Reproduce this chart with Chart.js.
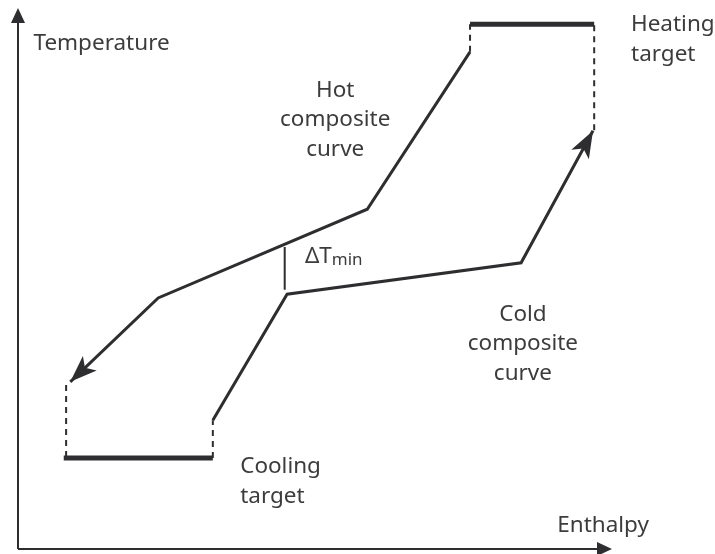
<!DOCTYPE html>
<html>
<head>
<meta charset="utf-8">
<script src="https://cdn.jsdelivr.net/npm/chart.js@4.4.1/dist/chart.umd.min.js"></script>
<style>
  html, body { margin: 0; padding: 0; background: #fff; }
  #wrap { width: 715px; height: 554px; }
</style>
</head>
<body>
<div id="wrap"><canvas id="pinch"></canvas></div>
<script>
// ===== data (enthalpy H, temperature T, arbitrary units 0..100) =====
const hotCurveH = [76.1, 58.8, 23.6, 8.8];
const hotCurveT = [91.9, 62.8, 46.4, 30.9];

const coldCurveH = [32.8, 45.3, 84.7, 96.8];
const coldCurveT = [23.8, 47.1, 52.9, 77.3];

const heatingTargetH = [76.1, 97.0];
const heatingTargetT = [97.0, 97.0];

const coolingTargetH = [7.7, 32.8];
const coolingTargetT = [16.8, 16.8];

// dashed connectors between curves and targets
const hotTopDashH = [76.1, 76.1];
const hotTopDashT = [91.9, 97.0];
const hotBottomDashH = [8.1, 8.1];
const hotBottomDashT = [30.3, 16.8];
const coldTopDashH = [97.0, 97.0];
const coldTopDashT = [77.4, 97.0];
const coldBottomDashH = [32.8, 32.8];
const coldBottomDashT = [16.8, 23.8];

const dTminH = [44.9, 44.9];
const dTminT = [55.8, 47.9];

const axisTitles = ["Temperature", "Enthalpy"];
const labelTexts = {
  heating: ["Heating", "target"],
  hot: ["Hot", "composite", "curve"],
  cold: ["Cold", "composite", "curve"],
  cooling: ["Cooling", "target"],
};

// ===== helpers =====
function pts(hs, ts) {
  return hs.map((h, i) => ({ x: h, y: ts[i] }));
}

const INK = "#2e2e31";
const TEXT = "#3c3c3c";
const FONT = "'Noto Sans', sans-serif";

function lineSet(hs, ts, width, dash, arrow) {
  return {
    data: pts(hs, ts),
    showLine: true,
    borderColor: INK,
    backgroundColor: INK,
    borderWidth: width,
    borderDash: dash || [],
    pointRadius: 0,
    tension: 0,
    borderCapStyle: "butt",
    borderJoinStyle: "miter",
    arrow: !!arrow,
  };
}

// draw arrowheads, axes and text on top
const decorPlugin = {
  id: "decor",
  afterDatasetsDraw(chart) {
    const ctx = chart.ctx;
    const xs = chart.scales.x;
    const ys = chart.scales.y;
    const area = chart.chartArea;

    function arrowHead(x0, y0, x1, y1, len, half) {
      const a = Math.atan2(y1 - y0, x1 - x0);
      ctx.save();
      ctx.fillStyle = INK;
      ctx.translate(x1, y1);
      ctx.rotate(a);
      ctx.beginPath();
      ctx.moveTo(0, 0);
      ctx.lineTo(-len, -half);
      ctx.lineTo(-len * 0.75, 0);
      ctx.lineTo(-len, half);
      ctx.closePath();
      ctx.fill();
      ctx.restore();
    }

    // arrowheads at end of composite curves
    chart.data.datasets.forEach((ds) => {
      if (!ds.arrow) return;
      const n = ds.data.length;
      const p0 = ds.data[n - 2], p1 = ds.data[n - 1];
      arrowHead(xs.getPixelForValue(p0.x), ys.getPixelForValue(p0.y),
                xs.getPixelForValue(p1.x), ys.getPixelForValue(p1.y), 27, 10);
    });

    // axes
    const ox = area.left, oy = area.bottom;
    ctx.save();
    ctx.strokeStyle = INK;
    ctx.lineWidth = 2;
    ctx.beginPath();
    ctx.moveTo(ox, oy);
    ctx.lineTo(ox, area.top + 12);
    ctx.moveTo(ox, oy);
    ctx.lineTo(area.right - 12, oy);
    ctx.stroke();
    ctx.fillStyle = INK;
    ctx.beginPath();
    ctx.moveTo(ox, area.top);
    ctx.lineTo(ox - 7, area.top + 15);
    ctx.lineTo(ox + 7, area.top + 15);
    ctx.closePath();
    ctx.fill();
    ctx.beginPath();
    ctx.moveTo(area.right, oy);
    ctx.lineTo(area.right - 15, oy - 7);
    ctx.lineTo(area.right - 15, oy + 7);
    ctx.closePath();
    ctx.fill();
    ctx.restore();

    // text
    ctx.save();
    ctx.fillStyle = TEXT;
    ctx.font = "22.5px " + FONT;
    ctx.textBaseline = "middle";

    function block(lines, h, t, align) {
      ctx.textAlign = align;
      const x = xs.getPixelForValue(h);
      const y = ys.getPixelForValue(t);
      lines.forEach((s, i) => ctx.fillText(s, x, y + i * 29.5));
    }

    block([axisTitles[0]], 2.6, 93.5, "left");
    block([axisTitles[1]], 98.5, 4.4, "center");
    block(labelTexts.heating, 103.2, 96.9, "left");
    block(labelTexts.hot, 53.4, 84.8, "center");
    block(labelTexts.cold, 85.0, 43.4, "center");
    block(labelTexts.cooling, 37.4, 15.2, "left");

    // ΔTmin label
    const dx = xs.getPixelForValue(48.3);
    const dy = ys.getPixelForValue(54.0);
    ctx.textAlign = "left";
    ctx.fillText("\u0394T", dx, dy);
    const w = ctx.measureText("\u0394T").width;
    ctx.font = "17px " + FONT;
    ctx.fillText("min", dx + w, dy + 3);
    ctx.restore();
  },
};

new Chart(document.getElementById("pinch"), {
  type: "scatter",
  data: {
    datasets: [
      lineSet(hotCurveH, hotCurveT, 3, null, true),
      lineSet(coldCurveH, coldCurveT, 3, null, true),
      lineSet(heatingTargetH, heatingTargetT, 5),
      lineSet(coolingTargetH, coolingTargetT, 5),
      lineSet(hotTopDashH, hotTopDashT, 2, [6, 5]),
      lineSet(hotBottomDashH, hotBottomDashT, 2, [6, 5]),
      lineSet(coldTopDashH, coldTopDashT, 2, [6, 5]),
      lineSet(coldBottomDashH, coldBottomDashT, 2, [6, 5]),
      lineSet(dTminH, dTminT, 2),
    ],
  },
  options: {
    responsive: true,
    maintainAspectRatio: false,
    animation: false,
    layout: { padding: { left: 18, right: 103, top: 8, bottom: 5 } },
    plugins: { legend: { display: false }, tooltip: { enabled: false } },
    scales: {
      x: { type: "linear", min: 0, max: 100, display: false },
      y: { type: "linear", min: 0, max: 100, display: false },
    },
  },
  plugins: [decorPlugin],
});
</script>
</body>
</html>
